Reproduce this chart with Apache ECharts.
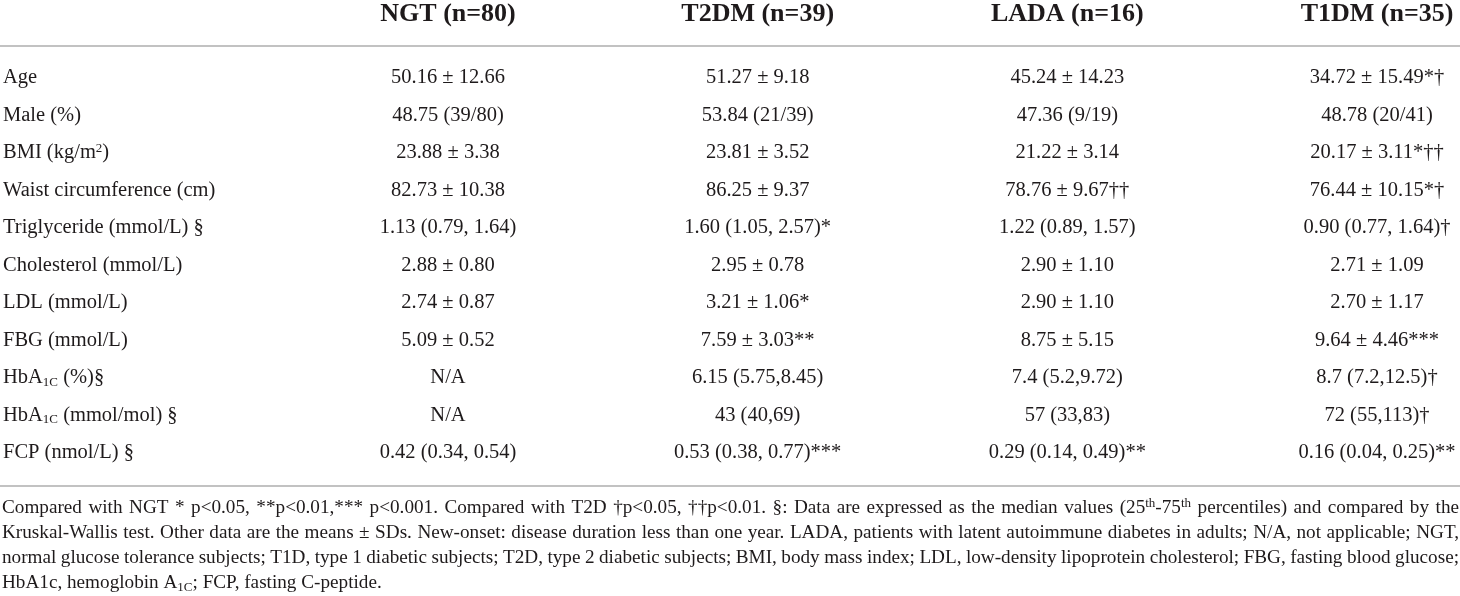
<!DOCTYPE html>
<html>
<head>
<meta charset="utf-8">
<script src="https://cdn.jsdelivr.net/npm/echarts@6/dist/echarts.min.js"></script>
<style>
  html, body { margin: 0; padding: 0; background: #fff; }
  #main { width: 1460px; height: 596px; }
</style>
</head>
<body>
<div id="main"></div>
<script>
// 表头（组别）
var groups = ['NGT (n=80)', 'T2DM (n=39)', 'LADA (n=16)', 'T1DM (n=35)'];
// 行名（rich 写法：sup 上标，sub 下标）
var rows = ['Age', 'Male (%)', 'BMI (kg/m{sup|2})', 'Waist circumference (cm)',
  'Triglyceride (mmol/L) §', 'Cholesterol (mmol/L)', 'LDL (mmol/L)', 'FBG (mmol/L)',
  'HbA{sub|1C} (%)§', 'HbA{sub|1C} (mmol/mol) §', 'FCP (nmol/L) §'];
// 各组数值
var ngt = ['50.16 ± 12.66', '48.75 (39/80)', '23.88 ± 3.38', '82.73 ± 10.38',
  '1.13 (0.79, 1.64)', '2.88 ± 0.80', '2.74 ± 0.87', '5.09 ± 0.52',
  'N/A', 'N/A', '0.42 (0.34, 0.54)'];
var t2dm = ['51.27 ± 9.18', '53.84 (21/39)', '23.81 ± 3.52', '86.25 ± 9.37',
  '1.60 (1.05, 2.57)*', '2.95 ± 0.78', '3.21 ± 1.06*', '7.59 ± 3.03**',
  '6.15 (5.75,8.45)', '43 (40,69)', '0.53 (0.38, 0.77)***'];
var lada = ['45.24 ± 14.23', '47.36 (9/19)', '21.22 ± 3.14', '78.76 ± 9.67††',
  '1.22 (0.89, 1.57)', '2.90 ± 1.10', '2.90 ± 1.10', '8.75 ± 5.15',
  '7.4 (5.2,9.72)', '57 (33,83)', '0.29 (0.14, 0.49)**'];
var t1dm = ['34.72 ± 15.49*†', '48.78 (20/41)', '20.17 ± 3.11*††', '76.44 ± 10.15*†',
  '0.90 (0.77, 1.64)†', '2.71 ± 1.09', '2.70 ± 1.17', '9.64 ± 4.46***',
  '8.7 (7.2,12.5)†', '72 (55,113)†', '0.16 (0.04, 0.25)**'];
// 表注（前三行两端对齐）
var notes = [
  'Compared with NGT * p<0.05, **p<0.01,*** p<0.001. Compared with T2D †p<0.05, ††p<0.01. §: Data are expressed as the median values (25{sup|th}-75{sup|th} percentiles) and compared by the',
  'Kruskal-Wallis test. Other data are the means ± SDs. New-onset: disease duration less than one year. LADA, patients with latent autoimmune diabetes in adults; N/A, not applicable; NGT,',
  'normal glucose tolerance subjects; T1D, type 1 diabetic subjects; T2D, type 2 diabetic subjects; BMI, body mass index; LDL, low-density lipoprotein cholesterol; FBG, fasting blood glucose;',
  'HbA1c, hemoglobin A{sub|1C}; FCP, fasting C-peptide.'
];

var FONT = 'Liberation Serif';
var INK = '#1e1a1b';
var BODY = 20.5, NOTE = 19.2, SMALL = 13;

function makeRich(extra) {
  var r = {
    sup: { fontSize: SMALL, fontFamily: FONT, color: INK, fill: INK, verticalAlign: 'top', lineHeight: 22 },
    sub: { fontSize: SMALL, fontFamily: FONT, color: INK, fill: INK, verticalAlign: 'bottom', lineHeight: 22 }
  };
  if (extra) r.sp = { width: extra, fontSize: NOTE, fontFamily: FONT };
  return r;
}

// 量文字宽度，用于表注两端对齐
var ctx = document.createElement('canvas').getContext('2d');
function measure(str, size) {
  var w = 0;
  str.replace(/\{(\w+)\|([^}]*)\}|([^{]+)/g, function (m, name, inner, plain) {
    if (plain) { ctx.font = size + 'px "' + FONT + '"'; w += ctx.measureText(plain).width; }
    else { ctx.font = SMALL + 'px "' + FONT + '"'; w += ctx.measureText(inner).width; }
    return m;
  });
  return w;
}
function justify(line, total) {
  var words = line.split(' ');
  var w = 0;
  words.forEach(function (wd) { w += measure(wd, NOTE); });
  var gap = (total - w) / (words.length - 1);
  return { text: words.join('{sp| }'), gap: gap };
}

var myChart = echarts.init(document.getElementById('main'));

var series = [ngt, t2dm, lada, t1dm].map(function (col, g) {
  return {
    type: 'scatter',
    symbolSize: 0,
    silent: true,
    itemStyle: { opacity: 1 },
    data: col.map(function (v, i) { return { value: [g, i], text: v }; }),
    label: {
      show: true,
      position: 'inside',
      formatter: function (p) { return p.data.text; },
      fontSize: BODY,
      fontFamily: FONT,
      color: INK
    }
  };
});

var graphic = [
  { type: 'line', shape: { x1: 0, y1: 46, x2: 1460, y2: 46 }, style: { stroke: '#c2c2c2', lineWidth: 2 }, silent: true },
  { type: 'line', shape: { x1: 0, y1: 486, x2: 1460, y2: 486 }, style: { stroke: '#c2c2c2', lineWidth: 2 }, silent: true }
];
notes.forEach(function (t, i) {
  var text = t, r = makeRich();
  if (i < notes.length - 1) {
    var j = justify(t, 1457);
    text = j.text;
    r = makeRich(j.gap);
  }
  graphic.push({
    type: 'text', x: 2, y: 508 + i * 25, silent: true,
    style: {
      text: text, fontSize: NOTE, fontFamily: FONT, fill: INK,
      verticalAlign: 'middle', rich: r
    }
  });
});

var option = {
  animation: false,
  backgroundColor: '#fff',
  grid: { left: 447, right: 83, top: 78, bottom: 143 },
  xAxis: {
    type: 'category',
    position: 'top',
    boundaryGap: false,
    data: groups,
    axisLine: { show: false },
    axisTick: { show: false },
    splitLine: { show: false },
    axisLabel: {
      interval: 0,
      margin: 64,
      verticalAlign: 'middle',
      fontSize: 26,
      fontWeight: 'bold',
      fontFamily: FONT,
      color: INK
    }
  },
  yAxis: {
    type: 'category',
    inverse: true,
    boundaryGap: false,
    data: rows,
    axisLine: { show: false },
    axisTick: { show: false },
    splitLine: { show: false },
    axisLabel: {
      interval: 0,
      align: 'left',
      margin: 445,
      fontSize: BODY,
      fontFamily: FONT,
      color: INK,
      formatter: function (v) { return v; },
      rich: makeRich()
    }
  },
  graphic: graphic,
  series: series
};
myChart.setOption(option);
</script>
</body>
</html>
